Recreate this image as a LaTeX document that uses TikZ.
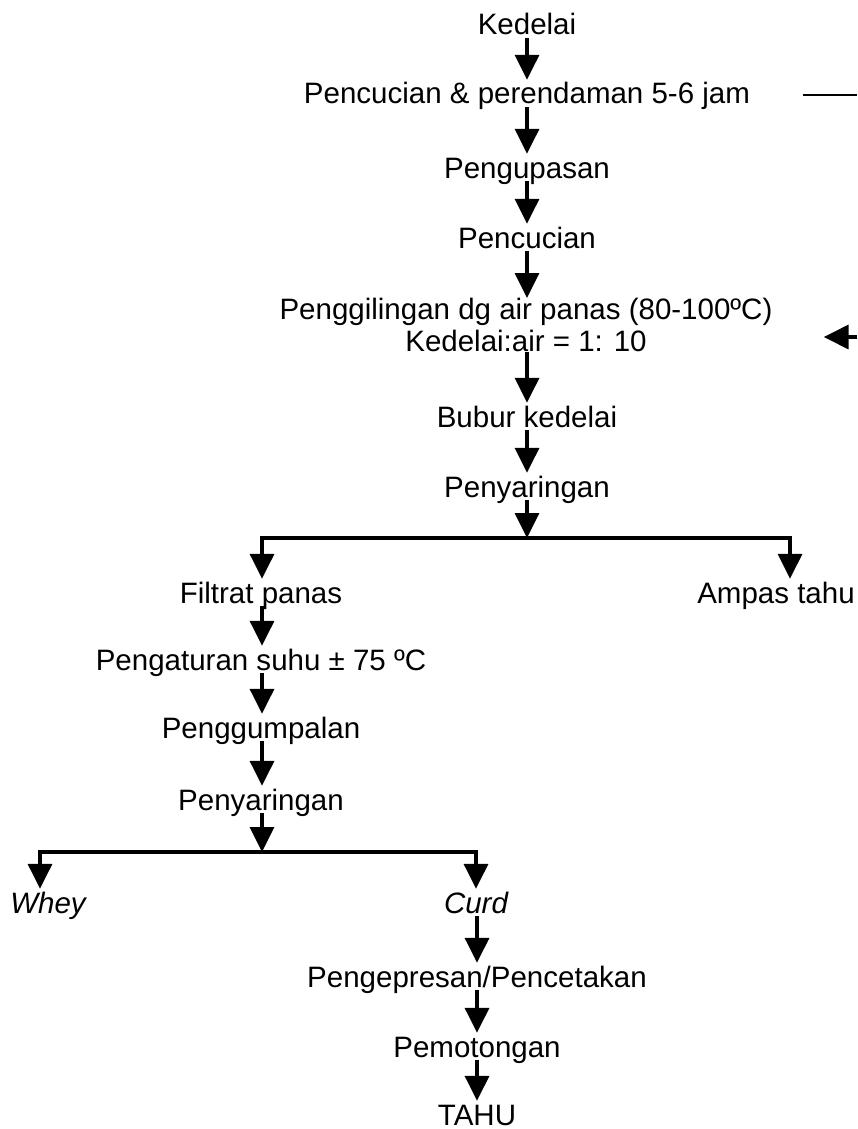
\documentclass[tikz,border=0pt]{standalone}
\usepackage{fontspec}
\setmainfont{Liberation Sans}
\usetikzlibrary{arrows.meta}
\begin{document}
\begin{tikzpicture}[x=1pt,y=-1pt,
    proc/.style={anchor=base,inner xsep=3pt,inner ysep=3pt,text height=21pt,text depth=0pt,
      font=\fontsize{29.5}{32}\selectfont},
    proctwo/.style={anchor=north,inner xsep=3pt,inner ysep=0pt,align=center,
      font=\fontsize{29.5}{32}\selectfont},
    flow/.style={line width=3.5pt,-{Triangle[length=25pt,width=24pt]}},
    bar/.style={line width=3.5pt,line cap=rect}]
  \useasboundingbox[fill=white] (0,0) rectangle (857,1129);
  \node[proc] (kedelai) at (527,35) {Kedelai};
  \node[proc] (rendam) at (527,104) {Pencucian \& perendaman 5-6 jam};
  \node[proc] (kupas) at (527,178) {Pengupasan};
  \node[proc] (cuci) at (527,248) {Pencucian};
  \node[proctwo] (giling) at (526,298) {Penggilingan dg air panas (80-100ºC)\\Kedelai:air = 1: 10};
  \node[proc] (bubur) at (527,427) {Bubur kedelai};
  \node[proc] (saring) at (527,497) {Penyaringan};
  \coordinate (cabang) at (527,538);
  \coordinate (kiri) at (262,538);
  \coordinate (kanan) at (790,538);
  \node[proc] (filtrat) at (261,603) {Filtrat panas};
  \node[proc] (ampas) at (776,603) {Ampas tahu};
  \node[proc] (suhu) at (261,670) {Pengaturan suhu ± 75 ºC};
  \node[proc] (gumpal) at (261,738) {Penggumpalan};
  \node[proc] (saringdua) at (261,810) {Penyaringan};
  \coordinate (cabangdua) at (262,852);
  \coordinate (kiridua) at (40,852);
  \coordinate (kanandua) at (476,852);
  \node[proc] (whey) at (48,913) {\itshape Whey};
  \node[proc] (curd) at (476,913) {\itshape Curd};
  \node[proc] (press) at (477,987) {Pengepresan/Pencetakan};
  \node[proc] (potong) at (477,1057) {Pemotongan};
  \node[proc] (tahu) at (477,1125) {TAHU};
  \coordinate (airkeluar) at (857,95);
  \coordinate (airmasuk) at (857,337);
  \begin{scope}[flow]
    \draw (kedelai.south) to (kedelai |- rendam.north);
    \draw (kedelai |- rendam.south) to (kupas.north);
    \draw (kupas.south) to (cuci.north);
    \draw (cuci.south) to (cuci |- giling.north);
    \draw (cuci |- giling.south) to (bubur.north);
    \draw (bubur.south) to (saring.north);
    \draw (saring.south) to (cabang);
    \draw (kiri) to (kiri |- filtrat.north);
    \draw (kanan) to (kanan |- ampas.north);
    \draw (kiri |- filtrat.south) to (kiri |- suhu.north);
    \draw (kiri |- suhu.south) to (kiri |- gumpal.north);
    \draw (kiri |- gumpal.south) to (kiri |- saringdua.north);
    \draw (kiri |- saringdua.south) to (cabangdua);
    \draw (kiridua) to (kiridua |- whey.north);
    \draw (kanandua) to (kanandua |- curd.north);
    \draw (press |- curd.south) to (press.north);
    \draw (press.south) to (potong.north);
    \draw (potong.south) to (tahu.north);
    \draw[shorten >=48pt] (airmasuk) to (giling.east |- airmasuk);
  \end{scope}
  \draw[bar] (kiri) -- (kanan);
  \draw[bar] (kiridua) -- (kanandua);
  \draw[line width=2pt] ([xshift=50pt]rendam.east |- airkeluar) -- (airkeluar);
\end{tikzpicture}
\end{document}
